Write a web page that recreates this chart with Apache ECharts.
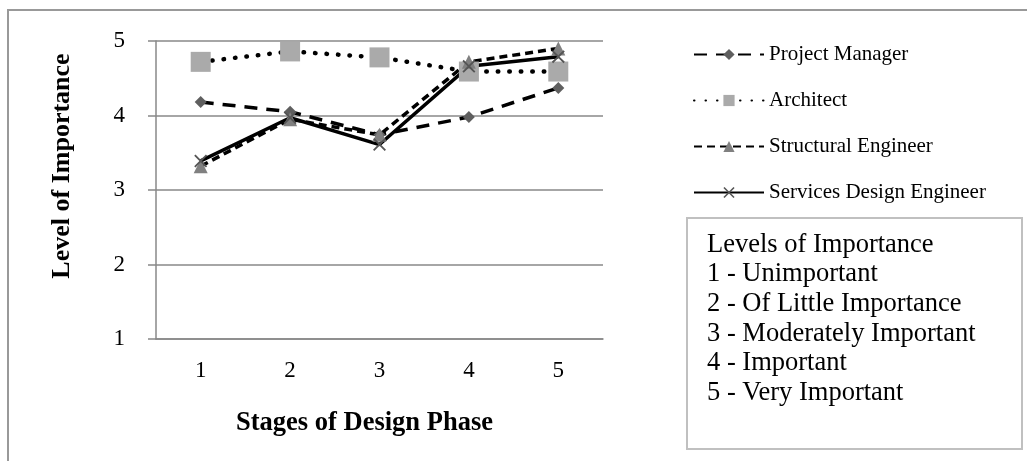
<!DOCTYPE html>
<html>
<head>
<meta charset="utf-8">
<script src="https://cdn.jsdelivr.net/npm/echarts@6/dist/echarts.min.js"></script>
<style>
  html, body { margin: 0; padding: 0; background: #fff; }
  #chart { width: 1027px; height: 461px; }
</style>
</head>
<body>
<div id="chart"></div>
<script>
// stages on x axis
const stages = ['1', '2', '3', '4', '5'];
// values
const projectManager = [4.18, 4.05, 3.74, 3.98, 4.37];
const architect = [4.72, 4.86, 4.78, 4.59, 4.59];
const structuralEngineer = [3.32, 3.95, 3.74, 4.72, 4.90];
const servicesEngineer = [3.39, 3.97, 3.61, 4.66, 4.79];
// notes in the box at the right
const importanceNotes = [
  'Levels of Importance',
  '1 - Unimportant',
  '2 - Of Little Importance',
  '3 - Moderately Important',
  '4 - Important',
  '5 - Very Important'
];

const serif = '"Liberation Serif", "Times New Roman", serif';
const crossPath = 'path://M0,1L1,0L5,4L9,0L10,1L6,5L10,9L9,10L5,6L1,10L0,9L4,5Z';

const myChart = echarts.init(document.getElementById('chart'));

const option = {
  backgroundColor: '#fff',
  animation: false,
  textStyle: { fontFamily: serif },
  grid: { left: 156, top: 41, right: 424, bottom: 122 },
  legend: {
    orient: 'vertical',
    left: 688,
    top: 39,
    itemWidth: 70,
    itemHeight: 14,
    itemGap: 25,
    textStyle: { fontFamily: serif, fontSize: 21, color: '#000', lineHeight: 14 },
    data: ['Project Manager', 'Architect', 'Structural Engineer', 'Services Design Engineer']
  },
  xAxis: {
    type: 'category',
    data: stages,
    boundaryGap: true,
    name: 'Stages of Design Phase',
    nameLocation: 'middle',
    nameGap: 71,
    nameTextStyle: { fontFamily: serif, fontSize: 26.5, fontWeight: 'bold', color: '#000', padding: [0, 30, 0, 0] },
    axisLine: { lineStyle: { color: '#888', width: 1.5 } },
    axisTick: { show: false },
    axisLabel: { fontFamily: serif, fontSize: 23, color: '#000', margin: 20 }
  },
  yAxis: {
    type: 'value',
    min: 1,
    max: 5,
    interval: 1,
    name: 'Level of Importance',
    nameLocation: 'middle',
    nameGap: 81,
    nameTextStyle: { fontFamily: serif, fontSize: 26, fontWeight: 'bold', color: '#000', padding: [0, 0, 0, 48] },
    axisLine: { show: true, lineStyle: { color: '#888', width: 1.5 } },
    axisTick: { show: true, length: 8, lineStyle: { color: '#888', width: 1.5 } },
    axisLabel: { fontFamily: serif, fontSize: 23, color: '#000', margin: 31 },
    splitLine: { lineStyle: { color: '#888', width: 1.5 } }
  },
  series: [
    {
      name: 'Project Manager',
      type: 'line',
      data: projectManager,
      symbol: 'diamond',
      symbolSize: 12,
      itemStyle: { color: '#5f5f5f' },
      lineStyle: { color: '#000', width: 3.5, type: [13, 9] }
    },
    {
      name: 'Architect',
      type: 'line',
      data: architect,
      symbol: 'rect',
      symbolSize: 20,
      itemStyle: { color: '#aaaaaa' },
      lineStyle: { color: '#000', width: 4.5, type: [0.5, 11], cap: 'round' }
    },
    {
      name: 'Structural Engineer',
      type: 'line',
      data: structuralEngineer,
      symbol: 'triangle',
      symbolSize: 14,
      itemStyle: { color: '#808080' },
      lineStyle: { color: '#000', width: 3.5, type: [8, 5] }
    },
    {
      name: 'Services Design Engineer',
      type: 'line',
      data: servicesEngineer,
      symbol: crossPath,
      symbolSize: 13,
      itemStyle: { color: '#555' },
      lineStyle: { color: '#000', width: 3.5 }
    }
  ],
  graphic: [
    {
      type: 'rect',
      silent: true,
      shape: { x: 8, y: 10, width: 1100, height: 600 },
      style: { fill: 'none', stroke: '#999', lineWidth: 2 }
    },
    {
      type: 'rect',
      silent: true,
      shape: { x: 687, y: 218, width: 335, height: 231 },
      style: { fill: '#fff', stroke: '#c0c0c0', lineWidth: 2 }
    },
    {
      type: 'text',
      silent: true,
      left: 707,
      top: 230,
      style: {
        text: importanceNotes.join('\n'),
        font: '26.5px ' + serif,
        fill: '#000',
        lineHeight: 29.6
      }
    }
  ]
};

myChart.setOption(option);
window.addEventListener('resize', () => myChart.resize());
</script>
</body>
</html>
